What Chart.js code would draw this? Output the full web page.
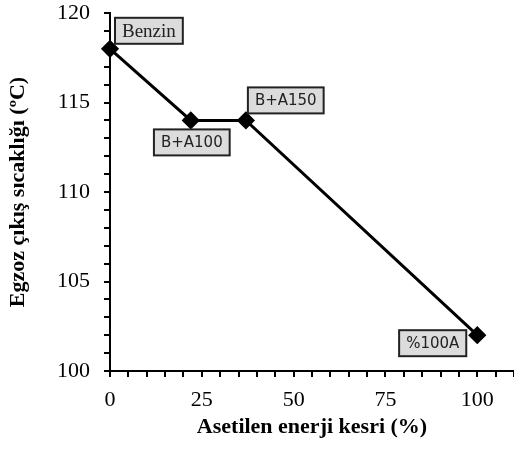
<!DOCTYPE html>
<html>
<head>
<meta charset="utf-8">
<script src="https://cdn.jsdelivr.net/npm/chart.js@4"></script>
<style>
  body { margin: 0; background: #fff; }
  #wrap { width: 514px; height: 450px; }
</style>
</head>
<body>
<div id="wrap"><canvas id="chart" width="514" height="450"></canvas></div>
<script>
// veriler
const pointNames = ["Benzin", "B+A100", "B+A150", "%100A"];
const energyShare = [0, 22, 37, 100];
const exhaustTemp = [118, 114, 114, 102];
const xTickLabels = [0, 25, 50, 75, 100];
const yTickLabels = [100, 105, 110, 115, 120];

// etiket kutulari (nokta etrafinda yerlesim)
const labelPlugin = {
  id: "pointLabels",
  afterDatasetsDraw(chart) {
    const ctx = chart.ctx;
    const xs = chart.scales.x, ys = chart.scales.y;
    const place = [
      { font: "19px 'Liberation Serif'", dx: 5, dy: -5, ax: "left", ay: "bottom" },
      { font: "15px 'DejaVu Sans'", dx: 1, dy: 9, ax: "center", ay: "top" },
      { font: "15px 'DejaVu Sans'", dx: 2, dy: -7, ax: "left", ay: "bottom" },
      { font: "15px 'DejaVu Sans'", dx: -11, dy: 8, ax: "right", ay: "middle" },
    ];
    ctx.save();
    pointNames.forEach((name, i) => {
      const p = place[i];
      const px = xs.getPixelForValue(energyShare[i]);
      const py = ys.getPixelForValue(exhaustTemp[i]);
      ctx.font = p.font;
      const w = ctx.measureText(name).width + 14;
      const h = 26;
      let x = px + p.dx, y = py + p.dy;
      if (p.ax === "center") x -= w / 2;
      if (p.ax === "right") x -= w;
      if (p.ay === "bottom") y -= h;
      if (p.ay === "middle") y -= h / 2;
      ctx.fillStyle = "#dcdcdc";
      ctx.strokeStyle = "#222";
      ctx.lineWidth = 2;
      ctx.fillRect(x, y, w, h);
      ctx.strokeRect(x, y, w, h);
      ctx.fillStyle = "#222";
      ctx.textAlign = "center";
      ctx.textBaseline = "middle";
      ctx.fillText(name, x + w / 2, y + h / 2 + 1);
    });
    ctx.restore();
  },
};

const serif = "'Liberation Serif', 'Times New Roman', serif";

new Chart(document.getElementById("chart"), {
  type: "scatter",
  data: {
    datasets: [{
      data: energyShare.map((v, i) => ({ x: v, y: exhaustTemp[i] })),
      showLine: true,
      borderColor: "#000",
      borderWidth: 3,
      backgroundColor: "#000",
      pointStyle: "rectRot",
      pointRadius: 7,
      pointHoverRadius: 7,
      clip: false,
    }],
  },
  options: {
    responsive: false,
    animation: false,
    layout: { autoPadding: false, padding: { top: 13, right: 0, bottom: 0, left: 0 } },
    plugins: { legend: { display: false }, tooltip: { enabled: false } },
    scales: {
      x: {
        type: "linear",
        min: 0,
        max: 110,
        border: { color: "#000", width: 2 },
        grid: { drawOnChartArea: false, color: "#000", lineWidth: 2, tickLength: 6 },
        ticks: {
          stepSize: 5,
          autoSkip: false,
          maxRotation: 0,
          padding: 10,
          color: "#000",
          font: { family: serif, size: 22 },
          callback: (v) => (xTickLabels.includes(v) ? String(v) : ""),
        },
        title: {
          display: true,
          text: "Asetilen enerji kesri (%)",
          color: "#000",
          font: { family: serif, size: 22, weight: "bold" },
          padding: { top: 0, bottom: 9 },
        },
        afterFit: (s) => {
          s.height = 79;
          s.paddingLeft = 0;
          s.paddingRight = 0;
        },
      },
      y: {
        min: 100,
        max: 120,
        border: { color: "#000", width: 2 },
        grid: { drawOnChartArea: false, color: "#000", lineWidth: 2, tickLength: 6 },
        ticks: {
          stepSize: 1,
          autoSkip: false,
          padding: 14,
          color: "#000",
          font: { family: serif, size: 22 },
          callback: (v) => (yTickLabels.includes(v) ? String(v) : ""),
        },
        title: {
          display: true,
          text: "Egzoz çıkış sıcaklığı (ºC)",
          color: "#000",
          font: { family: serif, size: 22, weight: "bold" },
          padding: { top: 5, bottom: 0 },
        },
        afterFit: (s) => {
          s.width = 110;
          s.paddingTop = 0;
          s.paddingBottom = 0;
        },
      },
    },
  },
  plugins: [labelPlugin],
});
</script>
</body>
</html>
